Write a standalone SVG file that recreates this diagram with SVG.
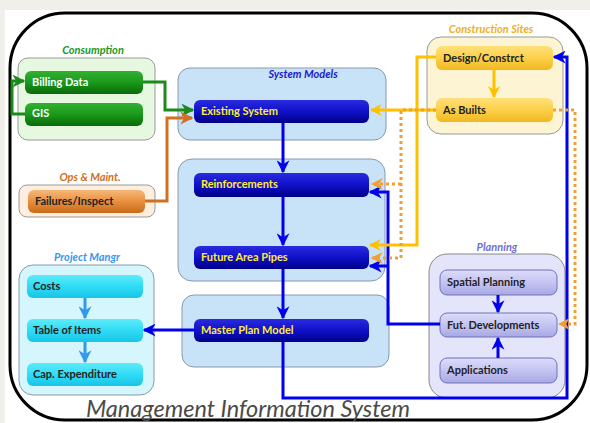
<svg xmlns="http://www.w3.org/2000/svg" width="590" height="423" viewBox="0 0 590 423">
<defs>
<style>
.lbl{font-family:Lato,"Liberation Sans",sans-serif;font-size:11px;font-weight:bold}
.grp{font-family:Lato,"Liberation Sans",sans-serif;font-size:11px;font-weight:bold;font-style:italic;text-anchor:middle}
.w{fill:#ffffff}.y{fill:#ffee33}.d{fill:#222222}
.c{fill:none}
</style>
<linearGradient id="gG" x1="0" y1="0" x2="0" y2="1"><stop offset="0" stop-color="#33b033"/><stop offset="0.5" stop-color="#1a991a"/><stop offset="1" stop-color="#0a6a0a"/></linearGradient>
<linearGradient id="gB" x1="0" y1="0" x2="0" y2="1"><stop offset="0" stop-color="#2a2ae0"/><stop offset="0.5" stop-color="#1010c8"/><stop offset="1" stop-color="#000088"/></linearGradient>
<linearGradient id="gO" x1="0" y1="0" x2="0" y2="1"><stop offset="0" stop-color="#f6b878"/><stop offset="0.5" stop-color="#e89040"/><stop offset="1" stop-color="#c86a18"/></linearGradient>
<linearGradient id="gY" x1="0" y1="0" x2="0" y2="1"><stop offset="0" stop-color="#ffe07a"/><stop offset="0.5" stop-color="#fcd04a"/><stop offset="1" stop-color="#f0b820"/></linearGradient>
<linearGradient id="gC" x1="0" y1="0" x2="0" y2="1"><stop offset="0" stop-color="#5cecfa"/><stop offset="0.5" stop-color="#30dcf4"/><stop offset="1" stop-color="#18c4e8"/></linearGradient>
<linearGradient id="gL" x1="0" y1="0" x2="0" y2="1"><stop offset="0" stop-color="#dcdcfa"/><stop offset="0.5" stop-color="#c4c4f2"/><stop offset="1" stop-color="#a8a8e4"/></linearGradient>
<marker id="aB" viewBox="0 0 10 10" refX="9" refY="5" markerWidth="13" markerHeight="13" markerUnits="userSpaceOnUse" orient="auto"><path d="M0,0 L10,5 L0,10 L3,5 z" fill="#0000ee"/></marker>
<marker id="aG" viewBox="0 0 10 10" refX="9" refY="5" markerWidth="13" markerHeight="13" markerUnits="userSpaceOnUse" orient="auto"><path d="M0,0 L10,5 L0,10 L3,5 z" fill="#1a8a1a"/></marker>
<marker id="aO" viewBox="0 0 10 10" refX="9" refY="5" markerWidth="13" markerHeight="13" markerUnits="userSpaceOnUse" orient="auto"><path d="M0,0 L10,5 L0,10 L3,5 z" fill="#d07020"/></marker>
<marker id="aY" viewBox="0 0 10 10" refX="9" refY="5" markerWidth="12" markerHeight="12" markerUnits="userSpaceOnUse" orient="auto"><path d="M0,0 L10,5 L0,10 L3,5 z" fill="#ffc000"/></marker>
<marker id="aD" viewBox="0 0 10 10" refX="9" refY="5" markerWidth="12" markerHeight="12" markerUnits="userSpaceOnUse" orient="auto"><path d="M0,0 L10,5 L0,10 L3,5 z" fill="#f0a030"/></marker>
<marker id="aC" viewBox="0 0 10 10" refX="9" refY="5" markerWidth="13" markerHeight="13" markerUnits="userSpaceOnUse" orient="auto"><path d="M0,0 L10,5 L0,10 L3,5 z" fill="#3399ee"/></marker>
</defs>
<rect x="0" y="0" width="590" height="423" fill="#f1efe9"/>
<rect x="5" y="10" width="585" height="413" fill="#ffffff"/>
<rect x="10" y="13" width="577" height="407" rx="55" fill="none" stroke="#000" stroke-width="3"/>

<g id="consumption">
<rect x="18" y="58" width="137" height="82" rx="10" fill="#e6f8e0" stroke="#999" stroke-width="1"/>
<text class="grp" x="93" y="54" fill="#229922">Consumption</text>
</g>
<g id="billing"><rect x="25" y="71" width="118" height="23" rx="6" fill="url(#gG)"/><text class="lbl w" x="32" y="86">Billing Data</text></g>
<g id="gis"><rect x="25" y="103" width="118" height="23" rx="6" fill="url(#gG)"/><text class="lbl w" x="32" y="117">GIS</text></g>

<g id="opsmaint">
<rect x="19" y="185" width="136" height="32" rx="8" fill="#fdeee0" stroke="#999" stroke-width="1"/>
<text class="grp" x="90" y="181" fill="#d07020">Ops &amp; Maint.</text>
</g>
<g id="failures"><rect x="28" y="190" width="117" height="23" rx="6" fill="url(#gO)"/><text class="lbl d" x="35" y="205">Failures/Inspect</text></g>

<g id="systemmodels">
<rect x="178" y="68" width="208" height="72" rx="12" fill="#c8e2f8" stroke="#8899aa" stroke-width="1"/>
<text class="grp" x="303" y="78" fill="#1a1acc">System Models</text>
</g>
<g id="existing"><rect x="194" y="100" width="175" height="23" rx="6" fill="url(#gB)"/><text class="lbl y" x="201" y="115">Existing System</text></g>

<g id="plangroup"><rect x="178" y="159" width="207" height="122" rx="14" fill="#c8e2f8" stroke="#8899aa" stroke-width="1"/></g>
<g id="reinforcements"><rect x="194" y="173" width="175" height="24" rx="6" fill="url(#gB)"/><text class="lbl y" x="201" y="188">Reinforcements</text></g>
<g id="future"><rect x="194" y="246" width="175" height="23" rx="6" fill="url(#gB)"/><text class="lbl y" x="201" y="261">Future Area Pipes</text></g>

<g id="mastergroup"><rect x="182" y="295" width="207" height="72" rx="12" fill="#c8e2f8" stroke="#8899aa" stroke-width="1"/></g>
<g id="master"><rect x="194" y="319" width="175" height="23" rx="6" fill="url(#gB)"/><text class="lbl y" x="201" y="334">Master Plan Model</text></g>

<g id="projectmangr">
<rect x="19" y="265" width="135" height="130" rx="14" fill="#d4f6fc" stroke="#8899aa" stroke-width="1"/>
<text class="grp" x="87" y="261" fill="#3399ee">Project Mangr</text>
</g>
<g id="costs"><rect x="27" y="275" width="116" height="23" rx="6" fill="url(#gC)"/><text class="lbl d" x="33" y="290">Costs</text></g>
<g id="table"><rect x="27" y="319" width="116" height="23" rx="6" fill="url(#gC)"/><text class="lbl d" x="33" y="334">Table of Items</text></g>
<g id="capex"><rect x="27" y="363" width="116" height="23" rx="6" fill="url(#gC)"/><text class="lbl d" x="33" y="378">Cap. Expenditure</text></g>

<g id="construction">
<rect x="427" y="37" width="136" height="97" rx="14" fill="#fdf4d4" stroke="#999" stroke-width="1"/>
<text class="grp" x="491" y="33" fill="#f0b020">Construction Sites</text>
</g>
<g id="design"><rect x="436" y="46" width="117" height="24" rx="6" fill="url(#gY)"/><text class="lbl d" x="443" y="62">Design/Constrct</text></g>
<g id="asbuilts"><rect x="436" y="98" width="117" height="24" rx="6" fill="url(#gY)"/><text class="lbl d" x="443" y="114">As Builts</text></g>

<g id="planning">
<rect x="429" y="254" width="136" height="144" rx="18" fill="#e4e4fa" stroke="#888" stroke-width="1"/>
<text class="grp" x="497" y="251" fill="#7070d0">Planning</text>
</g>
<g id="spatial"><rect x="440" y="270" width="117" height="25" rx="7" fill="url(#gL)" stroke="#7070c0" stroke-width="1"/><text class="lbl d" x="447" y="286">Spatial Planning</text></g>
<g id="futdev"><rect x="440" y="313" width="117" height="24" rx="7" fill="url(#gL)" stroke="#7070c0" stroke-width="1"/><text class="lbl d" x="447" y="329">Fut. Developments</text></g>
<g id="applications"><rect x="440" y="358" width="117" height="25" rx="7" fill="url(#gL)" stroke="#7070c0" stroke-width="1"/><text class="lbl d" x="447" y="374">Applications</text></g>

<g id="connectors" class="c">
<path d="M25,114 H12 V81 H24" stroke="#1a8a1a" stroke-width="3" fill="none" marker-end="url(#aG)"/>
<path d="M143,82 H165 V110 H193" stroke="#1a8a1a" stroke-width="3" fill="none" marker-end="url(#aG)"/>
<path d="M145,201 H167 V118 H192" stroke="#d07020" stroke-width="3" fill="none" marker-end="url(#aO)"/>
<path d="M283,123 V172" stroke="#0000ee" stroke-width="3" fill="none" marker-end="url(#aB)"/>
<path d="M283,197 V245" stroke="#0000ee" stroke-width="3" fill="none" marker-end="url(#aB)"/>
<path d="M283,269 V318" stroke="#0000ee" stroke-width="3" fill="none" marker-end="url(#aB)"/>
<path d="M194,330 H144" stroke="#0000ee" stroke-width="3" fill="none" marker-end="url(#aB)"/>
<path d="M283,342 V398 H567 V57 H554" stroke="#0000ee" stroke-width="3" fill="none" marker-end="url(#aB)"/>
<path d="M440,324 H388 V192 H370" stroke="#0000ee" stroke-width="3" fill="none" marker-end="url(#aB)"/>
<path d="M388,266 H370" stroke="#0000ee" stroke-width="3" fill="none" marker-end="url(#aB)"/>
<path d="M498,295 V312" stroke="#0000ee" stroke-width="3" fill="none" marker-end="url(#aB)"/>
<path d="M498,358 V338" stroke="#0000ee" stroke-width="3" fill="none" marker-end="url(#aB)"/>
<path d="M85,298 V318" stroke="#3399ee" stroke-width="3" fill="none" marker-end="url(#aC)"/>
<path d="M85,342 V362" stroke="#3399ee" stroke-width="3" fill="none" marker-end="url(#aC)"/>
<path d="M436,57 H417 V245 H370" stroke="#ffc000" stroke-width="3" fill="none" marker-end="url(#aY)"/>
<path d="M494,70 V97" stroke="#ffc000" stroke-width="3" fill="none" marker-end="url(#aY)"/>
<path d="M436,110 H371" stroke="#ffc000" stroke-width="3" fill="none" marker-end="url(#aY)"/>
<path d="M436,110 H401 V258 H372" stroke="#f0a030" stroke-width="3" stroke-dasharray="3,3" fill="none" marker-end="url(#aD)"/>
<path d="M401,184 H372" stroke="#f0a030" stroke-width="3" stroke-dasharray="3,3" fill="none" marker-end="url(#aD)"/>
<path d="M553,110 H575 V324 H559" stroke="#f0a030" stroke-width="3" stroke-dasharray="3,3" fill="none" marker-end="url(#aD)"/>
</g>
<text x="248" y="417" text-anchor="middle" font-family="Lato,'Liberation Sans',sans-serif" font-size="23.5" font-style="italic" fill="#4a4a4a">Management Information System</text>
</svg>
